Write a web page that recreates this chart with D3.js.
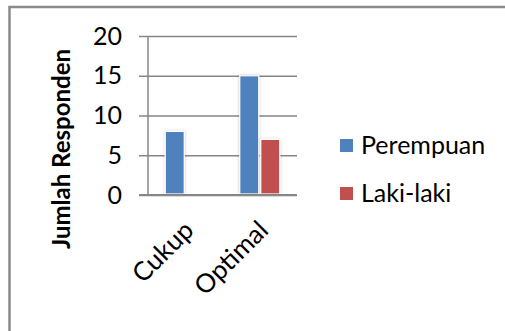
<!DOCTYPE html>
<html>
<head>
<meta charset="utf-8">
<script src="https://cdn.jsdelivr.net/npm/d3@7"></script>
<style>
  html, body { margin: 0; padding: 0; background: #fff; }
  svg { display: block; }
  text { font-family: Lato, "Open Sans", sans-serif; fill: #000; }
</style>
</head>
<body>
<svg id="chart" width="505" height="331"></svg>
<script>
// Respondent counts per category, split by gender
const categories = ["Cukup", "Optimal"];
const seriesNames = ["Perempuan", "Laki-laki"];
const perempuan = [8, 15];
const lakiLaki = [0, 7];
const yTicks = [0, 5, 10, 15, 20];
const colors = ["#4F81BD", "#C0504D"];

const svg = d3.select("#chart");

// frame around the chart area
svg.append("rect").attr("x", 9.5).attr("y", 7).attr("width", 700).attr("height", 600)
  .attr("fill", "none").attr("stroke", "#8a8a8a").attr("stroke-width", 2.5);

const plot = { left: 148, right: 297, top: 36, bottom: 195 };

const x0 = d3.scaleBand().domain(categories).range([plot.left, plot.right]);
// clusters are narrow: bars occupy about half the category band
const barW = 19, barGap = 2;
const y = d3.scaleLinear().domain([0, 20]).range([plot.bottom, plot.top]);

const defs = svg.append("defs");
const f = defs.append("filter").attr("id", "shadow").attr("x", "-30%").attr("y", "-10%").attr("width", "160%").attr("height", "120%");
f.append("feDropShadow").attr("dx", 0).attr("dy", 0).attr("stdDeviation", 1.6)
  .attr("flood-color", "#000").attr("flood-opacity", 0.22);

// horizontal gridlines with tick stubs to the left of the axis
const yAxis = d3.axisLeft(y).tickValues(yTicks).tickSize(-(plot.right - plot.left)).tickFormat(d3.format("d")).tickPadding(0);
const gy = svg.append("g").attr("transform", `translate(${plot.left},0)`).call(yAxis);
gy.select(".domain").remove();
gy.selectAll(".tick line").attr("x1", -9).attr("stroke", "#868686").attr("stroke-width", 1.5);
gy.selectAll(".tick text").attr("x", -26).attr("dy", "0.32em")
  .style("font-size", "25px").style("font-family", "Lato, sans-serif").attr("text-anchor", "end");

// vertical axis line
svg.append("line").attr("x1", plot.left).attr("x2", plot.left).attr("y1", plot.top).attr("y2", plot.bottom)
  .attr("stroke", "#868686").attr("stroke-width", 1.5);

// bars
const seriesValues = [perempuan, lakiLaki];
categories.forEach((cat, ci) => {
  const center = x0(cat) + x0.bandwidth() / 2;
  seriesValues.forEach((vals, si) => {
    const v = vals[ci];
    if (!v) return;
    const bx = si === 0 ? center - barGap / 2 - barW : center + barGap / 2;
    svg.append("rect")
      .attr("x", bx).attr("y", y(v)).attr("width", barW).attr("height", y(0) - y(v) - 1)
      .attr("fill", colors[si]).attr("stroke", "#fff").attr("stroke-width", 1.2)
      .attr("filter", "url(#shadow)");
  });
});

// category axis line
svg.append("line").attr("x1", plot.left - 9).attr("x2", plot.right).attr("y1", plot.bottom).attr("y2", plot.bottom)
  .attr("stroke", "#868686").attr("stroke-width", 2);

// rotated category labels
const xAxis = d3.axisBottom(x0).tickSize(0).tickPadding(0);
const gx = svg.append("g").attr("transform", `translate(0,${plot.bottom})`).call(xAxis);
gx.select(".domain").remove();
gx.selectAll(".tick text")
  .attr("text-anchor", "end").attr("dy", 0).attr("y", 0)
  .attr("transform", "translate(10,37) rotate(-45)")
  .style("font-size", "26px").style("font-family", "Lato, sans-serif");

// axis title
svg.append("text")
  .attr("transform", `translate(70,149) rotate(-90)`)
  .attr("text-anchor", "middle")
  .style("font-size", "24px").style("font-weight", "bold")
  .text("Jumlah Responden");

// legend
const legend = svg.append("g");
seriesNames.forEach((name, i) => {
  const ly = 145.5 + i * 48;
  legend.append("rect").attr("x", 340).attr("y", ly - 6.5).attr("width", 13).attr("height", 13).attr("fill", colors[i]);
  legend.append("text").attr("x", 361).attr("y", ly + 8.5).style("font-size", "25px").text(name);
});
</script>
</body>
</html>
